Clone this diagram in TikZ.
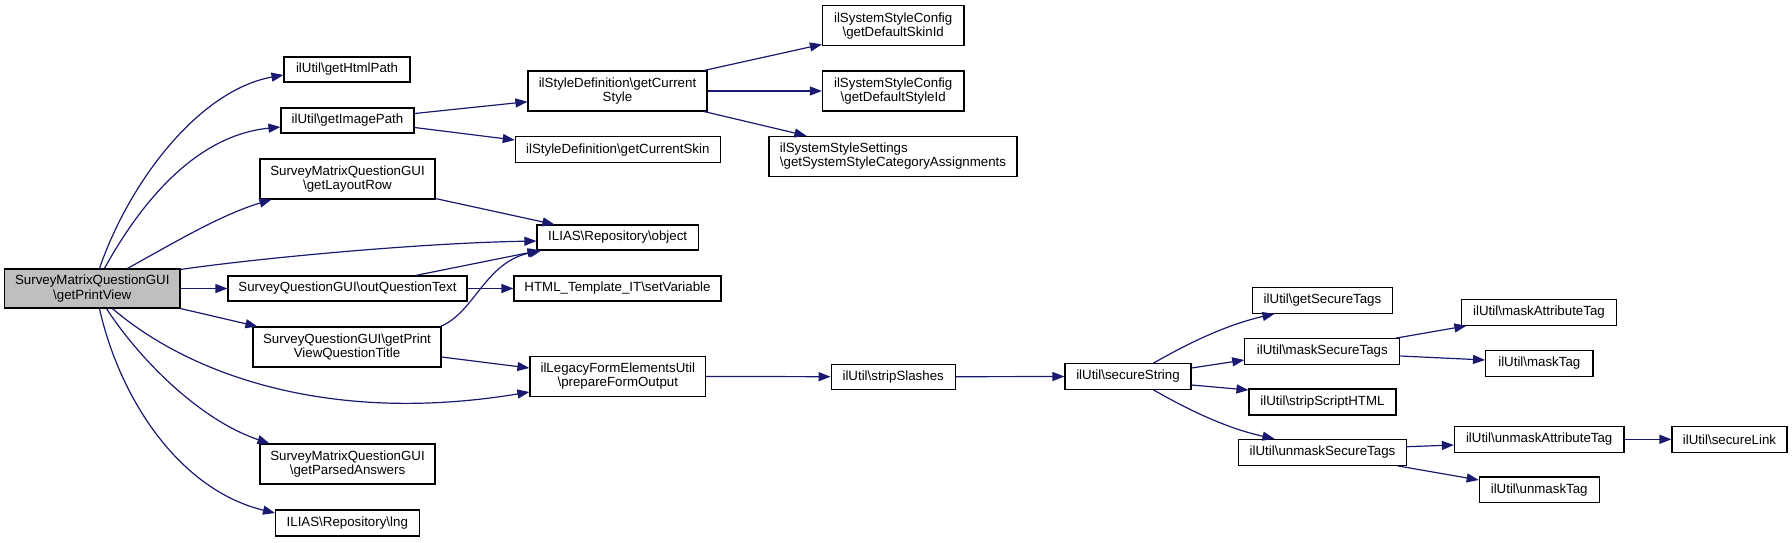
\documentclass[tikz,border=0pt]{standalone}
\usepackage{fontspec}
\setmainfont{Liberation Sans}
\usetikzlibrary{arrows.meta,calc}
\definecolor{edgeblue}{HTML}{191970}
\definecolor{maingray}{HTML}{BFBFBF}
\newcommand{\bs}{\textbackslash}
\begin{document}
\begin{tikzpicture}[x=1pt,y=-1pt,
  fn/.style={draw=black,line width=1.1pt,inner sep=0pt,align=center,fill=white,
    font=\fontsize{13.3}{14.2}\selectfont},
  call/.style={draw=edgeblue,line width=1.2pt,-{Triangle[length=12pt,width=9pt]}}]
\useasboundingbox (0,0) rectangle (1792,542);
% nodes
\node[fn,fill=maingray,minimum width=175.4pt,minimum height=39pt] (main) at (92.3,288.5) {SurveyMatrixQuestionGUI\\\bs getPrintView};
\node[fn,minimum width=126pt,minimum height=25pt] (htmlpath) at (347,69.5) {ilUtil\bs getHtmlPath};
\node[fn,minimum width=133pt,minimum height=25pt] (imagepath) at (347.5,120.5) {ilUtil\bs getImagePath};
\node[fn,minimum width=175pt,minimum height=40pt] (layoutrow) at (347.5,179) {SurveyMatrixQuestionGUI\\\bs getLayoutRow};
\node[fn,minimum width=161.5pt,minimum height=25pt] (object) at (617.7,237.5) {ILIAS\bs Repository\bs object};
\node[fn,minimum width=239pt,minimum height=25pt] (outqt) at (347.5,288.5) {SurveyQuestionGUI\bs outQuestionText};
\node[fn,minimum width=188pt,minimum height=40pt] (title) at (347,347) {SurveyQuestionGUI\bs getPrint\\ViewQuestionTitle};
\node[fn,minimum width=175pt,minimum height=40pt] (parsed) at (347.5,464) {SurveyMatrixQuestionGUI\\\bs getParsedAnswers};
\node[fn,minimum width=143.5pt,minimum height=26pt] (lng) at (347.3,523) {ILIAS\bs Repository\bs lng};
\node[fn,minimum width=179pt,minimum height=40pt] (curstyle) at (617.5,91) {ilStyleDefinition\bs getCurrent\\Style};
\node[fn,minimum width=205pt,minimum height=26pt] (curskin) at (617.8,149.7) {ilStyleDefinition\bs getCurrentSkin};
\node[fn,minimum width=207pt,minimum height=25pt] (html) at (617.5,288.5) {HTML\_Template\_IT\bs setVariable};
\node[fn,minimum width=175.7pt,minimum height=40pt] (legacy) at (617.8,376.4) {ilLegacyFormElementsUtil\\\bs prepareFormOutput};
\node[fn,minimum width=141.5pt,minimum height=40pt] (skinid) at (893.2,25.8) {ilSystemStyleConfig\\\bs getDefaultSkinId};
\node[fn,minimum width=141.5pt,minimum height=40pt] (styleid) at (893.2,91) {ilSystemStyleConfig\\\bs getDefaultStyleId};
\node[fn,align=left,minimum width=248pt,minimum height=40pt] (syscat) at (893,156.3) {ilSystemStyleSettings\\\bs getSystemStyleCategoryAssignments};
\node[fn,minimum width=124.3pt,minimum height=25.3pt] (strip) at (893.2,376.7) {ilUtil\bs stripSlashes};
\node[fn,minimum width=126pt,minimum height=25.6pt] (secstr) at (1128,376.5) {ilUtil\bs secureString};
\node[fn,minimum width=140pt,minimum height=26pt] (getsec) at (1322.5,300.3) {ilUtil\bs getSecureTags};
\node[fn,minimum width=155pt,minimum height=25.6pt] (masksec) at (1322.3,351.5) {ilUtil\bs maskSecureTags};
\node[fn,minimum width=147pt,minimum height=26pt] (stripscript) at (1322.5,402) {ilUtil\bs stripScriptHTML};
\node[fn,minimum width=167.8pt,minimum height=26pt] (unmasksec) at (1322.5,452.3) {ilUtil\bs unmaskSecureTags};
\node[fn,minimum width=155pt,minimum height=25.6pt] (maskattr) at (1539,312.5) {ilUtil\bs maskAttributeTag};
\node[fn,minimum width=107.4pt,minimum height=26pt] (masktag) at (1539.3,363.3) {ilUtil\bs maskTag};
\node[fn,minimum width=169.6pt,minimum height=26pt] (unmaskattr) at (1539.2,439.3) {ilUtil\bs unmaskAttributeTag};
\node[fn,minimum width=115pt,minimum height=26pt] (seclink) at (1729.5,439.3) {ilUtil\bs secureLink};
\node[fn,minimum width=120pt,minimum height=25.7pt] (unmasktag) at (1539.2,489.8) {ilUtil\bs unmaskTag};
% edges from main
\draw[call] ($(main.north west)+(95.4,0)$) .. controls (130,180) and (200,90) .. ($(htmlpath.west)+(0,5.5)$);
\draw[call] ($(main.north west)+(100.4,0)$) .. controls (145,195) and (200,135) .. ($(imagepath.west)+(0,6.5)$);
\draw[call] ($(main.north west)+(123.4,0)$) .. controls (170,245) and (220,215) .. ($(layoutrow.south west)+(12,0)$);
\draw[call] ($(main.north east)+(0,1)$) .. controls (260,258) and (420,243) .. ($(object.west)+(0,3.5)$);
\draw[call] (main.east) -- (outqt.west);
\draw[call] (main.south east) -- ($(title.north west)+(5,0)$);
\draw[call] ($(main.south west)+(108.4,0)$) .. controls (190,375) and (330,425) .. ($(legacy.west)+(0,15.6)$);
\draw[call] ($(main.south west)+(102.4,0)$) .. controls (140,360) and (200,420) .. ($(parsed.north west)+(10,0)$);
\draw[call] ($(main.south west)+(95.4,0)$) .. controls (120,400) and (180,490) .. ($(lng.west)+(0,-10)$);
% second level
\draw[call] ($(imagepath.east)+(0,-7)$) -- ($(curstyle.west)+(0,10.7)$);
\draw[call] ($(imagepath.east)+(0,7)$) -- ($(curskin.west)+(0,-9.7)$);
\draw[call] ($(layoutrow.south east)+(0,-1)$) -- ($(object.north west)+(18,0)$);
\draw[call] ($(outqt.north east)+(-52,0)$) -- ($(object.south west)+(3,0)$);
\draw[call] (outqt.east) -- (html.west);
\draw[call] ($(title.north east)+(-1,0)$) .. controls (475,312) and (485,262) .. ($(object.south west)+(5,0)$);
\draw[call] ($(title.east)+(0,10)$) -- ($(legacy.west)+(0,-8.4)$);
\draw[call] ($(curstyle.north east)+(-3.4,0)$) -- ($(skinid.south west)+(0,-2)$);
\draw[call] (curstyle.east) -- (styleid.west);
\draw[call] ($(curstyle.south east)+(-3.4,0)$) -- ($(syscat.north west)+(38,0)$);
\draw[call] (legacy.east) -- (strip.west);
\draw[call] (strip.east) -- (secstr.west);
% secureString
\draw[call] ($(secstr.north west)+(89,0)$) .. controls (1185,345) and (1225,325) .. ($(getsec.south west)+(22.5,0)$);
\draw[call] ($(secstr.east)+(0,-8.5)$) -- ($(masksec.west)+(0,8.5)$);
\draw[call] ($(secstr.east)+(0,8.5)$) -- ($(stripscript.west)+(0,-12)$);
\draw[call] ($(secstr.south west)+(89,0)$) .. controls (1185,408) and (1225,428) .. ($(unmasksec.north west)+(36.4,0)$);
\draw[call] ($(masksec.north east)+(-4.7,0)$) -- ($(maskattr.south west)+(5.4,0)$);
\draw[call] ($(masksec.east)+(0,4.5)$) -- ($(masktag.west)+(0,-3.3)$);
\draw[call] ($(unmasksec.east)+(0,-5.6)$) -- ($(unmaskattr.west)+(0,5.7)$);
\draw[call] ($(unmasksec.south east)+(-9.4,0)$) -- ($(unmasktag.west)+(0,-9.8)$);
\draw[call] (unmaskattr.east) -- (seclink.west);
\end{tikzpicture}
\end{document}
